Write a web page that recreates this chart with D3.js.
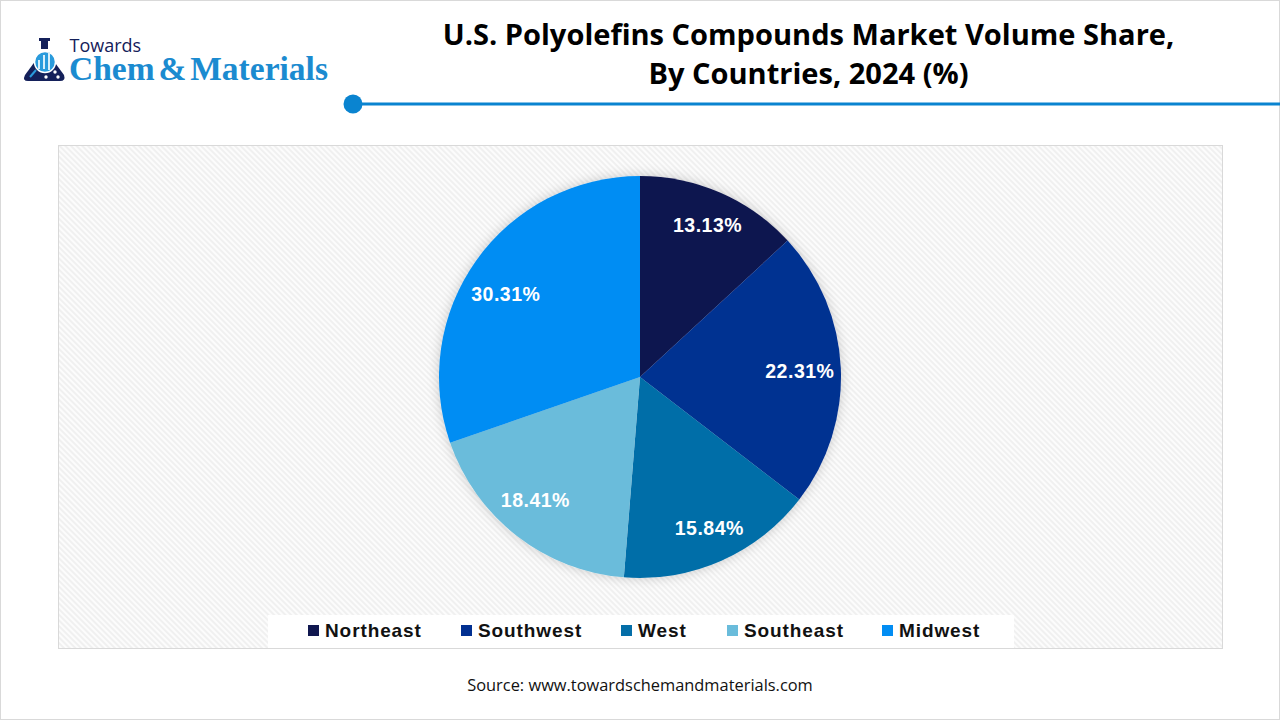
<!DOCTYPE html>
<html>
<head>
<meta charset="utf-8">
<script src="https://cdn.jsdelivr.net/npm/d3@7/dist/d3.min.js"></script>
<style>
  html, body { margin: 0; padding: 0; background: #fff; }
  svg { display: block; }
  text { font-family: "Open Sans", sans-serif; }
</style>
</head>
<body>
<svg id="chart" width="1280" height="720"></svg>
<script>
  var regions = ['Northeast', 'Southwest', 'West', 'Southeast', 'Midwest'],
      shares = [13.13, 22.31, 15.84, 18.41, 30.31],
      colors = ['#10174f', '#023091', '#046ea8', '#6abcdb', '#028df3'],
      titleLines = ['U.S. Polyolefins Compounds Market Volume Share,', 'By Countries, 2024 (%)'],
      sourceText = 'Source: www.towardschemandmaterials.com';

  // the labels are not all on one radius in the original
  var labelNudge = [[1, 0], [-6, 2], [2, -1], [-3, -8], [1, 13]];

  var svg = d3.select('#chart'),
      defs = svg.append('defs');

  var hatch = defs.append('pattern')
      .attr('id', 'hatch')
      .attr('width', 4)
      .attr('height', 4)
      .attr('patternUnits', 'userSpaceOnUse')
      .attr('patternTransform', 'rotate(45)');
  hatch.append('rect').attr('width', 4).attr('height', 4).attr('fill', '#fcfcfc');
  hatch.append('rect').attr('width', 4).attr('height', 2).attr('fill', '#f0f0f0');

  var shadow = defs.append('filter')
      .attr('id', 'pie-shadow')
      .attr('x', '-20%').attr('y', '-20%')
      .attr('width', '140%').attr('height', '140%');
  shadow.append('feDropShadow')
      .attr('dx', 0).attr('dy', 0)
      .attr('stdDeviation', 6)
      .attr('flood-color', '#000')
      .attr('flood-opacity', 0.2);

  // page frame
  svg.append('rect')
      .attr('x', 0.5).attr('y', 0.5)
      .attr('width', 1279).attr('height', 719)
      .attr('fill', '#fff')
      .attr('stroke', '#d9d9d9');

  drawLogo();
  drawHeader();

  // plot panel
  svg.append('rect')
      .attr('x', 58.5).attr('y', 145.5)
      .attr('width', 1164).attr('height', 503)
      .attr('fill', 'url(#hatch)')
      .attr('stroke', '#d9d9d9');

  drawPie();
  drawLegend();

  svg.append('text')
      .attr('x', 640)
      .attr('y', 691)
      .attr('text-anchor', 'middle')
      .attr('font-size', 16.4)
      .attr('fill', '#111')
      .text(sourceText);

  function drawHeader() {
    svg.selectAll('.title')
        .data(titleLines)
      .enter().append('text')
        .attr('class', 'title')
        .attr('x', 808.5)
        .attr('y', function(d, i) { return 45 + i * 39; })
        .attr('text-anchor', 'middle')
        .attr('font-size', 29.05)
        .attr('font-weight', 700)
        .attr('fill', '#000')
        .text(function(d) { return d; });

    svg.append('line')
        .attr('x1', 353).attr('x2', 1280)
        .attr('y1', 104).attr('y2', 104)
        .attr('stroke', '#0a84d0')
        .attr('stroke-width', 3);
    svg.append('circle')
        .attr('cx', 353).attr('cy', 104).attr('r', 9.5)
        .attr('fill', '#0a84d0');
  }

  function drawLogo() {
    var logo = svg.append('g');

    // flask
    logo.append('path')
        .attr('d', 'M36 60H53L64 75Q66 81 60 81H28Q22 81 25 75Z')
        .attr('fill', '#14205a');
    logo.append('rect')
        .attr('x', 39).attr('y', 38).attr('width', 11).attr('height', 3)
        .attr('fill', '#14205a');
    logo.append('rect')
        .attr('x', 41).attr('y', 41).attr('width', 7).attr('height', 8)
        .attr('fill', '#14205a');
    logo.append('circle')
        .attr('cx', 45).attr('cy', 62).attr('r', 10.5)
        .attr('fill', '#2a9bdc')
        .attr('stroke', '#fff')
        .attr('stroke-width', 1.5);
    logo.selectAll('.logo-bar')
        .data([[38, 60, 9], [43, 55, 14], [48, 52, 18]])
      .enter().append('rect')
        .attr('class', 'logo-bar')
        .attr('x', function(d) { return d[0]; })
        .attr('y', function(d) { return d[1]; })
        .attr('width', 2)
        .attr('height', function(d) { return d[2]; })
        .attr('fill', '#d8effa');
    logo.append('line')
        .attr('x1', 36).attr('y1', 70)
        .attr('x2', 30).attr('y2', 77)
        .attr('stroke', '#2a9bdc')
        .attr('stroke-width', 2);
    logo.selectAll('.logo-dot')
        .data([[55, 72], [46, 77], [58, 77]])
      .enter().append('circle')
        .attr('class', 'logo-dot')
        .attr('cx', function(d) { return d[0]; })
        .attr('cy', function(d) { return d[1]; })
        .attr('r', 1.7)
        .attr('fill', '#fff');

    logo.append('text')
        .attr('x', 69.5).attr('y', 52)
        .attr('font-size', 18)
        .attr('fill', '#14205a')
        .text('Towards');
    logo.append('text')
        .attr('x', 69).attr('y', 79.5)
        .style('font-family', '"Liberation Serif", serif')
        .style('word-spacing', '-4.5px')
        .attr('font-size', 33.5)
        .attr('font-weight', 700)
        .attr('fill', '#1b8bd0')
        .text('Chem & Materials');
  }

  function drawPie() {
    var cx = 640,
        cy = 377,
        radius = 201,
        labelRadius = 166;

    var pie = d3.pie().sort(null).value(function(d) { return d; }),
        arc = d3.arc().innerRadius(0).outerRadius(radius),
        labelArc = d3.arc().innerRadius(labelRadius).outerRadius(labelRadius);

    var g = svg.append('g')
        .attr('transform', 'translate(' + cx + ',' + cy + ')');

    g.append('g')
        .attr('filter', 'url(#pie-shadow)')
      .selectAll('path')
        .data(pie(shares))
      .enter().append('path')
        .attr('d', arc)
        .attr('fill', function(d, i) { return colors[i]; });

    g.selectAll('.slice-label')
        .data(pie(shares))
      .enter().append('text')
        .attr('class', 'slice-label')
        .attr('transform', function(d, i) {
          var c = labelArc.centroid(d);
          return 'translate(' + (c[0] + labelNudge[i][0]) + ',' + (c[1] + labelNudge[i][1]) + ')';
        })
        .attr('text-anchor', 'middle')
        .attr('dy', '0.35em')
        .style('font-family', '"Liberation Sans", sans-serif')
        .style('letter-spacing', '0.5px')
        .attr('font-size', 19.5)
        .attr('font-weight', 700)
        .attr('fill', '#fff')
        .text(function(d) { return d.data.toFixed(2) + '%'; });
  }

  function drawLegend() {
    var x = d3.scaleOrdinal()
        .domain(regions)
        .range([308, 461, 621, 727, 882]);

    svg.append('rect')
        .attr('x', 268).attr('y', 615)
        .attr('width', 746).attr('height', 33)
        .attr('fill', '#fff');

    var item = svg.selectAll('.legend-item')
        .data(regions)
      .enter().append('g')
        .attr('class', 'legend-item')
        .attr('transform', function(d) { return 'translate(' + x(d) + ',630)'; });

    item.append('rect')
        .attr('x', 0).attr('y', -5)
        .attr('width', 11).attr('height', 11)
        .attr('fill', function(d, i) { return colors[i]; });

    item.append('text')
        .attr('x', 17)
        .attr('dy', '0.35em')
        .style('font-family', '"Liberation Sans", sans-serif')
        .style('letter-spacing', '0.9px')
        .attr('font-size', 19)
        .attr('font-weight', 700)
        .attr('fill', '#111')
        .text(function(d) { return d; });
  }
</script>
</body>
</html>
